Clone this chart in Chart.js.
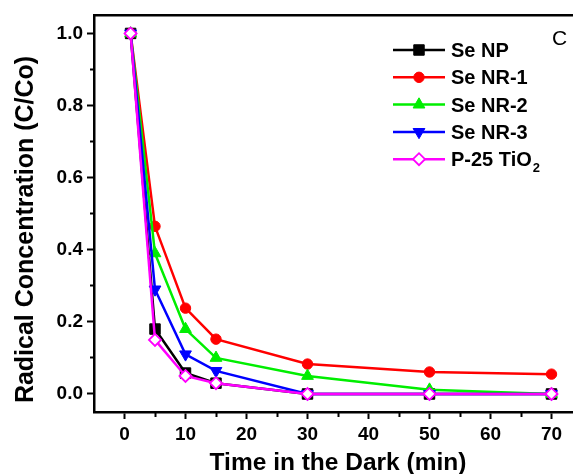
<!DOCTYPE html>
<html><head><meta charset="utf-8">
<script src="https://cdn.jsdelivr.net/npm/chart.js@4/dist/chart.umd.min.js"></script>
<style>html,body{margin:0;padding:0;background:#fff;overflow:hidden;width:573px;height:474px}canvas{display:block}</style>
</head><body>
<canvas id="c" width="600" height="474"></canvas>
<script>
// ---- data ----
const times = [1, 5, 10, 15, 30, 50, 70];
const seNP  = [1.0, 0.18, 0.058, 0.03, 0.0, 0.0, 0.0];
const seNR1 = [1.0, 0.465, 0.238, 0.152, 0.083, 0.061, 0.055];
const seNR2 = [1.0, 0.39, 0.18, 0.10, 0.05, 0.012, 0.0];
const seNR3 = [1.0, 0.29, 0.11, 0.064, 0.0, 0.0, 0.0];
const p25   = [1.0, 0.15, 0.05, 0.03, 0.0, 0.0, 0.0];
const seriesNames = ['Se NP', 'Se NR-1', 'Se NR-2', 'Se NR-3', 'P-25 TiO2'];
const xMajorTicks = [0, 10, 20, 30, 40, 50, 60, 70];
const xMinorTicks = [5, 15, 25, 35, 45, 55, 65, 75];
const yMajorTicks = [0, 0.2, 0.4, 0.6, 0.8, 1.0];
const yMinorTicks = [0.1, 0.3, 0.5, 0.7, 0.9];
const xTitle = 'Time in the Dark (min)';
const yTitle = 'Radical Concentration (C/Co)';
const panelLabel = 'C';

const FONT = "'Liberation Sans', Arial, Helvetica, sans-serif";
const pts = arr => arr.map((v, i) => ({x: times[i], y: v}));

const styles = [
  {color: '#000000', pointStyle: 'rect', radius: 7.4, rotation: 0, fill: '#000000', bw: 1, order: 4},
  {color: '#ff0000', pointStyle: 'circle', radius: 5.2, rotation: 0, fill: '#ff0000', bw: 1, order: 3},
  {color: '#00ee00', pointStyle: 'triangle', radius: 6.8, rotation: 0, fill: '#00ee00', bw: 1, order: 2},
  {color: '#0000ff', pointStyle: 'triangle', radius: 6.8, rotation: 180, fill: '#0000ff', bw: 1, order: 1},
  {color: '#ff00ff', pointStyle: 'rectRot', radius: 6, rotation: 0, fill: '#ffffff', bw: 1.8, order: 0}
];
const seriesValues = [seNP, seNR1, seNR2, seNR3, p25];

const datasets = seriesValues.map((vals, i) => ({
  label: seriesNames[i],
  data: pts(vals),
  borderColor: styles[i].color,
  backgroundColor: styles[i].fill,
  borderWidth: 2.5,
  pointStyle: styles[i].pointStyle,
  pointRadius: styles[i].radius,
  pointRotation: styles[i].rotation,
  pointBackgroundColor: styles[i].fill,
  pointBorderColor: styles[i].color,
  pointBorderWidth: styles[i].bw,
  pointHoverRadius: styles[i].radius,
  tension: 0,
  order: styles[i].order
}));

const setTicks = list => scale => { scale.ticks = list.map(v => ({value: v})); };
const tickFont = {family: FONT, size: 19, weight: 'bold'};

const decor = {
  id: 'decor',
  afterDraw(chart) {
    const ctx = chart.ctx;
    ctx.save();
    ctx.fillStyle = '#000';
    // axis titles
    ctx.font = `bold 24.5px ${FONT}`;
    ctx.textAlign = 'center';
    ctx.textBaseline = 'alphabetic';
    ctx.fillText(xTitle, (chart.chartArea.left + chart.chartArea.right) / 2, 470);
    ctx.save();
    ctx.translate(33, 229.5);
    ctx.rotate(-Math.PI / 2);
    ctx.font = `bold 25px ${FONT}`;
    ctx.fillText(yTitle, 0, 0);
    ctx.restore();
    // panel label
    ctx.font = `21px ${FONT}`;
    ctx.textAlign = 'left';
    ctx.fillText(panelLabel, 552, 45);
    // legend
    const fs = 20;
    chart.data.datasets.forEach((ds, i) => {
      const y = 50 + i * 27.3;
      const st = styles[i];
      ctx.strokeStyle = st.color;
      ctx.lineWidth = 2.5;
      ctx.beginPath(); ctx.moveTo(393, y); ctx.lineTo(445, y); ctx.stroke();
      ctx.fillStyle = st.fill;
      ctx.strokeStyle = st.color;
      ctx.lineWidth = st.bw;
      Chart.helpers.drawPoint(ctx, {pointStyle: st.pointStyle, radius: st.radius, rotation: st.rotation, borderWidth: st.bw}, 419, y);
      ctx.fillStyle = '#000';
      ctx.font = `bold ${fs}px ${FONT}`;
      ctx.textAlign = 'left';
      ctx.textBaseline = 'alphabetic';
      const base = y + 0.358 * fs;
      const label = ds.label;
      if (label.endsWith('TiO2')) {
        const main = label.slice(0, -1);
        ctx.fillText(main, 451, base);
        const w = ctx.measureText(main).width;
        ctx.font = `bold ${Math.round(fs * 0.65)}px ${FONT}`;
        ctx.fillText('2', 451 + w + 1, base + 6);
      } else {
        ctx.fillText(label, 451, base);
      }
    });
    ctx.restore();
  }
};

new Chart(document.getElementById('c'), {
  type: 'line',
  data: {datasets},
  options: {
    responsive: false,
    animation: false,
    events: [],
    layout: {padding: {left: 0, right: 18, top: 0, bottom: 0}},
    plugins: {legend: {display: false}, tooltip: {enabled: false}},
    scales: {
      x: {
        type: 'linear', position: 'bottom', min: -5, max: 75, weight: 1,
        afterBuildTicks: setTicks(xMajorTicks),
        afterFit: s => { s.height = 62; },
        grid: {drawOnChartArea: false, drawTicks: true, tickLength: 7, tickWidth: 2, tickColor: '#000'},
        border: {display: true, color: '#000', width: 2.5},
        ticks: {font: tickFont, color: '#000', padding: 4, maxRotation: 0, autoSkip: false,
                callback: v => String(v)}
      },
      xm: {
        type: 'linear', position: 'bottom', min: -5, max: 75, weight: 0,
        afterBuildTicks: setTicks(xMinorTicks),
        afterFit: s => { s.height = 0; },
        grid: {drawOnChartArea: false, drawTicks: true, tickLength: 5, tickWidth: 2, tickColor: '#000'},
        border: {display: false},
        ticks: {display: false}
      },
      xt: {
        type: 'linear', position: 'top', min: -5, max: 75,
        afterFit: s => { s.height = 13; },
        grid: {display: false, drawTicks: false},
        border: {display: true, color: '#000', width: 2.5},
        ticks: {display: false}
      },
      y: {
        type: 'linear', position: 'left', min: -0.05, max: 1.05, weight: 1,
        afterBuildTicks: setTicks(yMajorTicks),
        afterFit: s => { s.width = 94; },
        grid: {drawOnChartArea: false, drawTicks: true, tickLength: 7, tickWidth: 2, tickColor: '#000'},
        border: {display: true, color: '#000', width: 2.5},
        ticks: {font: tickFont, color: '#000', padding: 4, autoSkip: false,
                callback: v => Number(v).toFixed(1)}
      },
      ym: {
        type: 'linear', position: 'left', min: -0.05, max: 1.05, weight: 0,
        afterBuildTicks: setTicks(yMinorTicks),
        afterFit: s => { s.width = 0; },
        grid: {drawOnChartArea: false, drawTicks: true, tickLength: 4, tickWidth: 2, tickColor: '#000'},
        border: {display: false},
        ticks: {display: false}
      }
    }
  },
  plugins: [decor]
});
</script>
</body></html>
